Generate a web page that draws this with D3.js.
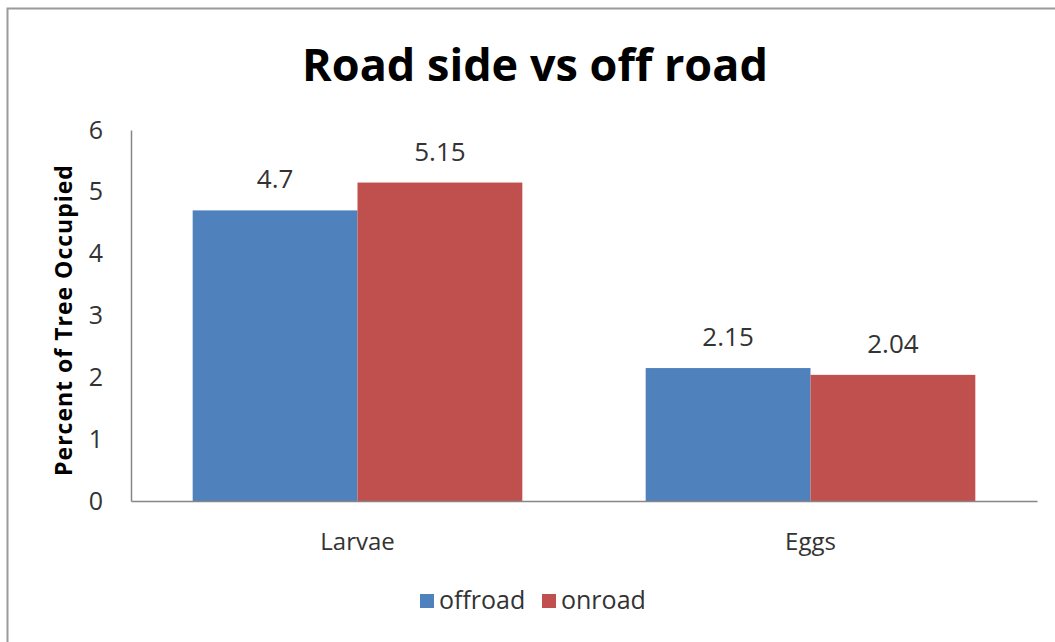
<!DOCTYPE html>
<html><head><meta charset="utf-8">
<script src="https://cdn.jsdelivr.net/npm/d3@7"></script>
<style>body{margin:0;background:#fff;}svg{display:block;font-family:"Open Sans",sans-serif;}</style>
</head><body>
<svg id="c" width="1055" height="642"></svg>
<script>
const categories = ["Larvae", "Eggs"];
const seriesNames = ["offroad", "onroad"];
const offroad = [4.7, 2.15];
const onroad = [5.15, 2.04];
const yTicks = [0, 1, 2, 3, 4, 5, 6];
const colors = ["#4F81BD", "#C0504D"];
const title = "Road side vs off road";
const yTitle = "Percent of Tree Occupied";

const FONT = "'Open Sans',sans-serif";
const svg = d3.select("#c");
// outer frame
svg.append("path").attr("d","M7.5,642 V8.5 H1055").attr("fill","none").attr("stroke","#9a9a9a").attr("stroke-width",2);

const pLeft = 131, pRight = 1037, pTop = 130, pBottom = 501;
const x0 = d3.scaleBand().domain(categories).range([pLeft, pRight]).paddingInner(0.2723).paddingOuter(0.13615);
const x1 = d3.scaleBand().domain(seriesNames).range([0, x0.bandwidth()]);
const y = d3.scaleLinear().domain([0, 6]).range([pBottom, pTop]);

const data = categories.map((c,i)=>({cat:c, vals:[{s:"offroad",v:offroad[i]},{s:"onroad",v:onroad[i]}]}));

const g = svg.append("g");
const groups = g.selectAll("g.grp").data(data).join("g").attr("transform",d=>`translate(${x0(d.cat)},0)`);
groups.selectAll("rect").data(d=>d.vals).join("rect")
  .attr("x",d=>x1(d.s)).attr("width",x1.bandwidth())
  .attr("y",d=>y(d.v)).attr("height",d=>y(0)-y(d.v))
  .attr("fill",(d,i)=>colors[i]);
groups.selectAll("text").data(d=>d.vals).join("text")
  .attr("x",d=>x1(d.s)+x1.bandwidth()/2).attr("y",d=>y(d.v)-22)
  .attr("text-anchor","middle").attr("font-size",26).attr("fill","#333")
  .text(d=>String(d.v));

// y axis
const ya = svg.append("g").attr("transform",`translate(${pLeft},0)`)
  .call(d3.axisLeft(y).tickValues(yTicks).tickSize(0).tickPadding(28).tickFormat(d3.format("d")));
ya.select(".domain").attr("stroke","#868686").attr("stroke-width",1.5);
ya.selectAll("text").attr("font-size",25).attr("fill","#333").attr("font-family",FONT);

// x axis
const xa = svg.append("g").attr("transform",`translate(0,${pBottom})`)
  .call(d3.axisBottom(x0).tickSize(0).tickPadding(32).tickSizeOuter(0));
xa.select(".domain").attr("stroke","#868686").attr("stroke-width",1.5);
xa.selectAll("text").attr("font-size",24).attr("fill","#333").attr("font-family",FONT);

// title
svg.append("text").attr("x",535).attr("y",81).attr("text-anchor","middle")
  .attr("font-size",45).attr("font-weight","bold").attr("fill","#000").text(title);
// y title
svg.append("text").attr("transform","translate(72,320) rotate(-90)").attr("text-anchor","middle")
  .attr("font-size",23).attr("font-weight","bold").attr("letter-spacing",1).attr("fill","#000").text(yTitle);

// legend
const leg = svg.append("g").attr("transform","translate(420,601)");
const legItems = leg.selectAll("g").data(seriesNames).join("g").attr("transform",(d,i)=>`translate(${i*122},0)`);
legItems.append("rect").attr("x",0).attr("y",-7).attr("width",14).attr("height",14).attr("fill",(d,i)=>colors[i]);
legItems.append("text").attr("x",19).attr("y",8).attr("font-size",25).attr("fill","#333").text(d=>d);
</script>
</body></html>
